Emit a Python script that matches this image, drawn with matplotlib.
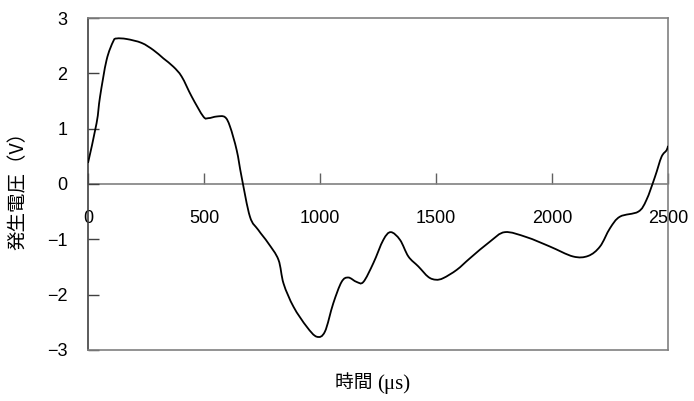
import matplotlib
matplotlib.use("Agg")
import numpy as np
from matplotlib import pyplot as plt
from matplotlib.path import Path
from matplotlib.patches import PathPatch

plt.rcParams['font.family'] = ['Liberation Sans', 'Noto Sans CJK JP', 'DejaVu Sans']

# generated voltage waveform (time in microseconds, voltage in V)
time_us = [0, 37, 52, 80, 109, 124, 167, 231, 282, 325, 368, 404, 447, 497, 519,
           555, 590, 612, 641, 662, 698, 734, 777, 821, 843, 886, 943, 986, 1021,
           1057, 1093, 1122, 1158, 1187, 1230, 1273, 1305, 1345, 1381, 1424, 1467,
           1500, 1532, 1590, 1647, 1733, 1797, 1890, 1991, 2091, 2156, 2207, 2250,
           2293, 2372, 2407, 2444, 2472, 2494, 2500]
voltage = [0.38, 1.10, 1.58, 2.24, 2.58, 2.63, 2.62, 2.55, 2.42, 2.27, 2.12, 1.94,
           1.58, 1.22, 1.19, 1.22, 1.21, 1.04, 0.61, 0.13, -0.59, -0.83, -1.07,
           -1.37, -1.80, -2.22, -2.58, -2.76, -2.67, -2.16, -1.77, -1.69, -1.77,
           -1.77, -1.43, -1.01, -0.87, -1.01, -1.31, -1.49, -1.68, -1.73, -1.70,
           -1.55, -1.34, -1.04, -0.87, -0.96, -1.13, -1.31, -1.30, -1.13, -0.80,
           -0.59, -0.50, -0.29, 0.13, 0.49, 0.61, 0.69]

x_ticks = [0, 500, 1000, 1500, 2000, 2500]
y_ticks = [-3, -2, -1, 0, 1, 2, 3]

frame_color = '#808080'
font_size = 13


def smooth_path(xs, ys):
    """Cubic Bezier path through every point (Catmull-Rom tangents)."""
    pts = np.column_stack([xs, ys]).astype(float)
    padded = np.vstack([pts[0], pts, pts[-1]])
    verts = [pts[0]]
    codes = [Path.MOVETO]
    for i in range(len(pts) - 1):
        p0, p1, p2, p3 = padded[i], padded[i + 1], padded[i + 2], padded[i + 3]
        verts += [p1 + (p2 - p0) / 6, p2 - (p3 - p1) / 6, p2]
        codes += [Path.CURVE4] * 3
    return Path(verts, codes)


fig = plt.figure(figsize=(6.94, 4.01), dpi=100)
ax = fig.add_axes([0.1268, 0.1272, 0.8357, 0.8279])

ax.add_patch(PathPatch(smooth_path(time_us, voltage), fill=False,
                       edgecolor='black', linewidth=1.3, zorder=3))
ax.axhline(0, color=frame_color, linewidth=1.2, zorder=1)

ax.set_xlim(0, 2500)
ax.set_ylim(-3, 3)

for side in ['left', 'right', 'top', 'bottom']:
    ax.spines[side].set_color(frame_color)
    ax.spines[side].set_linewidth(1.2)
ax.spines['left'].set_color('#404040')

ax.set_yticks(y_ticks)
ax.set_yticklabels([str(v).replace('-', '\u2212') for v in y_ticks])
ax.tick_params(axis='y', direction='in', length=8, width=1, color='#404040',
               labelsize=font_size, pad=15)
ax.set_xticks([])

# x axis drawn along the zero line, ticks pointing up, labels below
zero_axis = ax.secondary_xaxis(0.5)
zero_axis.set_alignment('bottom')
zero_axis.set_xticks(x_ticks)
zero_axis.spines['bottom'].set_visible(False)
zero_axis.spines['top'].set_visible(False)
zero_axis.tick_params(axis='x', direction='in', length=8, width=1, color='#606060',
                      labelsize=font_size, pad=19)

fig.text(18 / 694, 0.536, '発生電圧（V）', family=['Noto Sans CJK JP'],
         fontsize=14, rotation=90, ha='center', va='center')

# axis title: Japanese part in gothic, unit in serif
fig.text(0.543, 0.045, '時間 ', family=['Noto Sans CJK JP'],
         fontsize=13.5, ha='right', va='center')
fig.text(0.543, 0.043, '(μs)', family=['Liberation Serif'],
         fontsize=15, ha='left', va='center')

fig.savefig('out.png', dpi=100)
